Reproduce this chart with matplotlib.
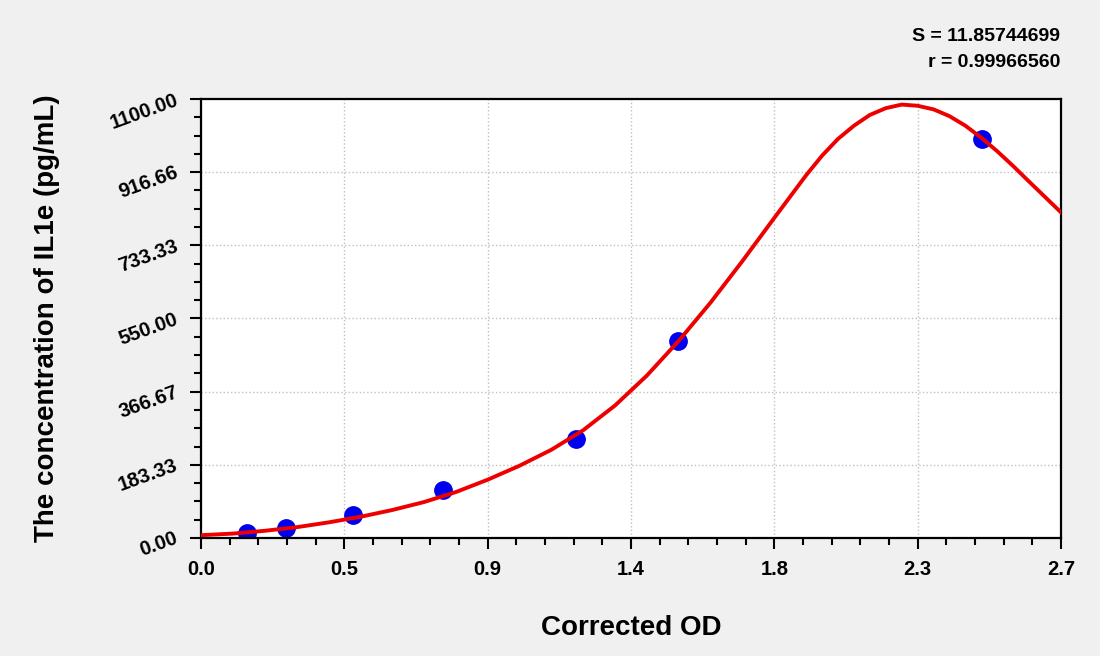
import numpy as np
import matplotlib
matplotlib.use("Agg")
from matplotlib import pyplot as plt
from matplotlib.ticker import AutoMinorLocator

# standard points
od = [0.145, 0.267, 0.478, 0.760, 1.177, 1.499, 2.451]
conc = [12, 26, 58, 121, 248, 494, 999]

# fitted curve
curve_x = [0.0, 0.1, 0.2, 0.3, 0.4, 0.5, 0.6, 0.7, 0.8, 0.9, 1.0, 1.1, 1.2, 1.3,
           1.4, 1.5, 1.6, 1.7, 1.8, 1.9, 1.95, 2.0, 2.05, 2.1, 2.15, 2.2, 2.25,
           2.3, 2.35, 2.4, 2.45, 2.5, 2.55, 2.6, 2.7]
curve_y = [7, 11, 18, 27, 39, 53, 70, 90, 115, 146, 181, 221, 270, 332,
           407, 494, 590, 694, 802, 909, 958, 1000, 1033, 1060, 1077, 1086, 1083,
           1074, 1057, 1033, 1003, 969, 932, 893, 816]

xticks = [0.0, 0.45, 0.9, 1.35, 1.8, 2.25, 2.7]
xlabels = ["0.0", "0.5", "0.9", "1.4", "1.8", "2.3", "2.7"]
yticks = [0, 1100/6, 2200/6, 550, 4400/6, 5500/6, 1100]
ylabels = ["0.00", "183.33", "366.67", "550.00", "733.33", "916.66", "1100.00"]

plt.rcParams['font.family'] = ['Liberation Sans', 'DejaVu Sans']
plt.rcParams['font.weight'] = 'bold'

fig = plt.figure(figsize=(11, 6.56), dpi=100, facecolor="#f0f0f0")
ax = fig.add_axes([0.1827, 0.1799, 0.7818, 0.6692])
ax.set_facecolor("white")

ax.plot(od, conc, "o", color="#0000f0", markersize=12.5, zorder=2)
ax.plot(curve_x, curve_y, color="#ee0000", linewidth=2.8, zorder=3)

ax.set_xlim(0, 2.7)
ax.set_ylim(0, 1100)
ax.set_xticks(xticks)
ax.set_xticklabels(xlabels, fontsize=14.5, fontweight="bold")
ax.set_yticks(yticks)
ax.set_yticklabels(ylabels, fontsize=14.5, fontweight="bold", rotation=20,
                   rotation_mode="anchor", ha="right", va="center")
ax.xaxis.set_minor_locator(AutoMinorLocator(5))
ax.yaxis.set_minor_locator(AutoMinorLocator(4))
ax.tick_params(which="major", direction="out", length=8, width=1.5, pad=8)
ax.tick_params(which="minor", direction="out", length=5, width=1.5)
ax.tick_params(axis="y", which="major", pad=9)
for s in ax.spines.values():
    s.set_linewidth(1.6)

ax.grid(True, which="major", linestyle=":", color="#c0c0c0", linewidth=1)
ax.set_axisbelow(True)

ax.set_xlabel("Corrected OD", fontsize=20, fontweight="bold", labelpad=26)
ax.set_ylabel("The concentration of IL1e (pg/mL)", fontsize=20, fontweight="bold", labelpad=34)

fig.text(0.9636, 0.944, "S = 11.85744699", fontsize=14, fontweight="bold", ha="right", va="center")
fig.text(0.9636, 0.904, "r = 0.99966560", fontsize=14, fontweight="bold", ha="right", va="center")

fig.savefig("out.png", dpi=100, facecolor=fig.get_facecolor())
